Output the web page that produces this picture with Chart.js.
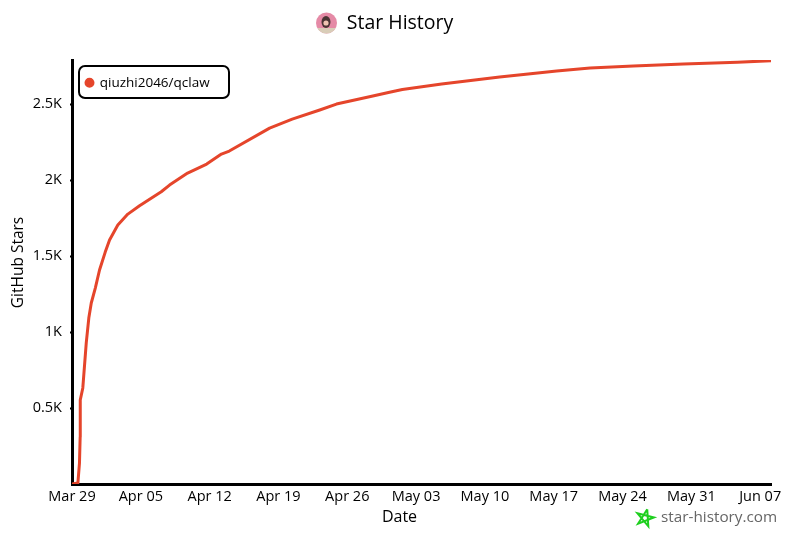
<!DOCTYPE html>
<html>
<head>
<meta charset="utf-8">
<title>Star History</title>
<script src="https://cdn.jsdelivr.net/npm/chart.js@4/dist/chart.umd.min.js"></script>
<style>
  html, body { margin: 0; padding: 0; background: #fff; }
  #chart { display: block; }
</style>
</head>
<body>
<canvas id="chart" width="800" height="533"></canvas>
<script>
// days since Mar 29
const days = [0, 0.6, 0.76, 0.83, 0.84, 1.1, 1.45, 1.71, 1.96, 2.37, 2.8, 3.38, 3.82, 4.66, 5.68, 6.87,
    9.08, 9.92, 11.76, 13.7, 15.2, 16, 20.1, 22.4, 25.2, 26.9, 30.6, 32.3, 33.6, 37.6, 43.5, 49.3,
    52.7, 57.1, 62.2, 67.7, 71.1];
const stars = [0, 7, 138, 309, 553, 632, 928, 1092, 1191, 1289, 1408, 1526, 1605, 1704, 1776, 1831,
    1923, 1967, 2046, 2105, 2171, 2191, 2342, 2401, 2461, 2500, 2553, 2578, 2596, 2632, 2678, 2717,
    2737, 2750, 2763, 2776, 2785];

const xTickValues = [0, 7, 14, 21, 28, 35, 42, 49, 56, 63, 70];
const xTickLabels = ['Mar 29', 'Apr 05', 'Apr 12', 'Apr 19', 'Apr 26', 'May 03', 'May 10', 'May 17', 'May 24', 'May 31', 'Jun 07'];
const yTickValues = [500, 1000, 1500, 2000, 2500];
const yTickLabels = ['0.5K', '1K', '1.5K', '2K', '2.5K'];

const seriesName = 'qiuzhi2046/qclaw';
const lineColor = '#e5452b';
const fontName = '"Open Sans", sans-serif';

// the bits Chart.js has no option for: legend frame, centred axis titles, avatar, watermark
const decorations = {
    id: 'decorations',
    afterLayout(chart) {
        // title is centred on the whole picture, legend sits inside the plot
        chart.titleBlock.left = 0;
        chart.titleBlock.right = 800;
        chart.legend.left = 72;
        chart.legend.top = 62;
    },
    afterDraw(chart) {
        const ctx = chart.ctx;
        ctx.save();

        ctx.strokeStyle = '#000';
        ctx.lineWidth = 2;
        ctx.beginPath();
        ctx.roundRect(79, 66, 150, 32, 6);
        ctx.stroke();

        ctx.fillStyle = '#000';
        ctx.textAlign = 'center';
        ctx.textBaseline = 'middle';
        ctx.font = '16px ' + fontName;
        ctx.fillText('Date', 399.5, 517);
        ctx.save();
        ctx.translate(19, 262.5);
        ctx.rotate(-Math.PI / 2);
        ctx.font = '15.5px ' + fontName;
        ctx.fillText('GitHub Stars', 0, 0);
        ctx.restore();

        // avatar
        ctx.save();
        ctx.beginPath();
        ctx.arc(326.5, 23, 10.5, 0, Math.PI * 2);
        ctx.clip();
        ctx.fillStyle = '#e58aa6';
        ctx.fillRect(316, 12, 22, 22);
        ctx.fillStyle = '#d9cdb8';
        ctx.fillRect(316, 28, 22, 7);
        ctx.fillStyle = '#4a3434';
        ctx.beginPath();
        ctx.ellipse(326, 22, 4.5, 6, 0, 0, Math.PI * 2);
        ctx.fill();
        ctx.fillStyle = '#efc4b2';
        ctx.beginPath();
        ctx.arc(326, 23, 2.6, 0, Math.PI * 2);
        ctx.fill();
        ctx.restore();

        // watermark
        ctx.strokeStyle = '#1fcf1f';
        ctx.lineWidth = 2;
        ctx.beginPath();
        for (let i = 0; i < 6; i++) {
            const a = -Math.PI / 2 + 0.25 + i * 4 * Math.PI / 5;
            const px = 645 + 9 * Math.cos(a), py = 518 + 9 * Math.sin(a);
            if (i === 0) ctx.moveTo(px, py); else ctx.lineTo(px, py);
        }
        ctx.stroke();
        ctx.fillStyle = '#666';
        ctx.textAlign = 'left';
        ctx.font = '15.3px ' + fontName;
        ctx.fillText('star-history.com', 661, 518);

        ctx.restore();
    }
};

new Chart(document.getElementById('chart'), {
    type: 'line',
    data: {
        labels: days,
        datasets: [{
            label: seriesName,
            data: days.map((d, i) => ({ x: d, y: stars[i] })),
            borderColor: lineColor,
            backgroundColor: lineColor,
            borderWidth: 3,
            borderJoinStyle: 'round',
            pointRadius: 0,
            pointStyle: 'circle',
            tension: 0
        }]
    },
    options: {
        responsive: false,
        animation: false,
        layout: { padding: { right: 29 } },
        plugins: {
            tooltip: { enabled: false },
            title: {
                display: true,
                text: 'Star History',
                color: '#000',
                font: { family: fontName, size: 19.5, weight: 'normal' },
                padding: { top: 12, bottom: 24.6 }
            },
            legend: {
                position: 'chartArea',
                align: 'start',
                labels: {
                    usePointStyle: true,
                    pointStyleWidth: 7,
                    boxHeight: 5,
                    padding: 14,
                    color: '#000',
                    font: { family: fontName, size: 13.5 }
                }
            }
        },
        scales: {
            x: {
                type: 'linear',
                min: 0,
                max: 71.1,
                afterBuildTicks: s => { s.ticks = xTickValues.map(v => ({ value: v })); },
                afterFit: s => { s.height = 49; },
                ticks: {
                    autoSkip: false,
                    maxRotation: 0,
                    padding: 4,
                    color: '#000',
                    font: { family: fontName, size: 14.5 },
                    callback: v => xTickLabels[xTickValues.indexOf(v)]
                },
                grid: { drawOnChartArea: false, drawTicks: false },
                border: { color: '#000', width: 3 }
            },
            y: {
                min: 0,
                max: 2790,
                afterBuildTicks: s => { s.ticks = yTickValues.map(v => ({ value: v })); },
                afterFit: s => { s.width = 72; },
                ticks: {
                    padding: 8,
                    color: '#000',
                    font: { family: fontName, size: 14.5 },
                    callback: v => yTickLabels[yTickValues.indexOf(v)]
                },
                grid: { drawOnChartArea: false, tickLength: 2, tickWidth: 2, tickColor: '#000' },
                border: { color: '#000', width: 3 }
            }
        }
    },
    plugins: [decorations]
});
</script>
</body>
</html>
